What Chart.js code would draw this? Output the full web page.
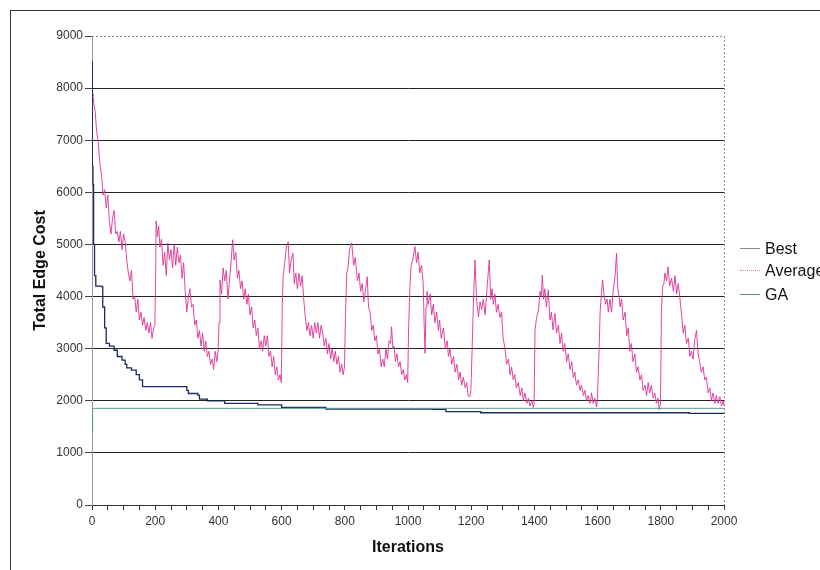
<!DOCTYPE html>
<html>
<head>
<meta charset="utf-8">
<title>Total Edge Cost vs Iterations</title>
<script src="https://cdn.jsdelivr.net/npm/chart.js@4.4.1/dist/chart.umd.min.js"></script>
<style>
    html, body { margin: 0; padding: 0; background: #fff; overflow: hidden; }
    #wrap { position: relative; width: 820px; height: 570px; font-family: Arial, "Liberation Sans", sans-serif; }
    #grafico { position: absolute; left: 0; top: 0; }
    .moldura-topo { position: absolute; left: 10px; top: 10px; width: 810px; height: 1px; background: #333; }
    .moldura-esq { position: absolute; left: 10px; top: 10px; width: 1px; height: 560px; background: #333; }
    .legenda { position: absolute; left: 740px; font-size: 16px; line-height: 18px; color: #111; white-space: nowrap; }
    .legenda span { display: inline-block; width: 20px; height: 0; margin-right: 5px; vertical-align: middle; position: relative; top: -1px; }
</style>
</head>
<body>
<div id="wrap">
    <canvas id="grafico" width="820" height="570"></canvas>
    <div class="moldura-topo"></div>
    <div class="moldura-esq"></div>
    <div class="legenda" style="top:240px"><span style="border-top:1.5px solid #8a8a8a"></span>Best</div>
    <div class="legenda" style="top:262px"><span style="border-top:1.5px dotted #e27ab8"></span>Average</div>
    <div class="legenda" style="top:286px"><span style="border-top:1.5px solid #4f8f80"></span>GA</div>
</div>
<script>
// Dados (iteração, custo total)
const bestIter = [0, 1, 3, 5, 8, 12, 30, 34, 40, 45, 55, 70, 80, 95, 105, 110, 125, 140, 150, 160, 295, 300, 305, 335, 340, 365, 420, 525, 600, 740, 1080, 1120, 1230, 1890, 2000];
const bestCost = [8500, 6500, 6150, 5000, 4400, 4200, 4190, 3800, 3400, 3100, 3050, 2970, 2850, 2780, 2700, 2630, 2590, 2500, 2400, 2270, 2270, 2200, 2140, 2110, 2030, 2000, 1950, 1920, 1875, 1840, 1835, 1790, 1770, 1760, 1750];

const gaIter = [0, 2, 2000];
const gaCost = [1400, 1855, 1855];

const avgIter = [
    0, 3, 6, 10, 15, 20, 25, 30, 35, 40, 45, 50, 55, 60, 65, 70, 75, 80, 85, 90, 95, 100, 105, 110, 115, 120, 125, 130, 135, 140, 145, 150, 155, 160, 165, 170, 175, 180, 185, 190, 195, 199,
    201, 203, 207, 211, 215, 220, 225, 230, 235, 240, 245, 250, 255, 260, 265, 270, 275, 280, 285, 290, 295, 300, 305, 310, 315, 320, 325, 330, 335, 340, 345, 350, 355, 360, 365, 370, 375, 380, 385, 390, 395, 399,
    402, 405, 410, 415, 420, 425, 430, 435, 440, 445, 450, 455, 460, 465, 470, 475, 480, 485, 490, 495, 500, 505, 510, 515, 520, 525, 530, 535, 540, 545, 550, 555, 560, 565, 570, 575, 580, 585, 590, 595, 599,
    602, 605, 610, 615, 621, 625, 630, 636, 640, 645, 650, 655, 660, 665, 670, 675, 680, 685, 690, 695, 700, 705, 710, 715, 720, 725, 730, 735, 740, 745, 750, 755, 760, 765, 770, 775, 780, 785, 790, 795, 799,
    802, 806, 810, 815, 822, 828, 833, 840, 845, 850, 855, 860, 865, 871, 875, 880, 885, 890, 895, 900, 905, 910, 915, 920, 925, 930, 935, 940, 945, 948, 952, 956, 960, 965, 970, 975, 980, 985, 990, 995, 999,
    1002, 1006, 1010, 1015, 1022, 1027, 1032, 1037, 1043, 1048, 1051, 1054, 1057, 1060, 1064, 1070, 1075, 1080, 1085, 1091, 1096, 1100, 1105, 1112, 1118, 1124, 1128, 1133, 1138, 1144, 1149, 1155, 1160, 1165, 1170, 1175, 1181, 1186, 1190, 1196, 1199,
    1203, 1207, 1212, 1217, 1223, 1228, 1233, 1238, 1244, 1250, 1257, 1262, 1266, 1270, 1275, 1280, 1285, 1291, 1296, 1301, 1307, 1312, 1318, 1323, 1328, 1333, 1338, 1343, 1349, 1355, 1360, 1365, 1370, 1376, 1381, 1386, 1392, 1397, 1399,
    1402, 1407, 1413, 1418, 1422, 1425, 1429, 1433, 1438, 1444, 1449, 1454, 1459, 1465, 1470, 1476, 1481, 1486, 1491, 1496, 1502, 1507, 1513, 1518, 1523, 1528, 1533, 1539, 1544, 1549, 1555, 1560, 1565, 1570, 1576, 1581, 1586, 1591, 1597, 1599,
    1602, 1605, 1608, 1612, 1616, 1620, 1625, 1630, 1634, 1639, 1644, 1650, 1655, 1660, 1664, 1668, 1671, 1676, 1681, 1687, 1692, 1697, 1702, 1707, 1712, 1718, 1723, 1728, 1734, 1739, 1744, 1750, 1755, 1760, 1765, 1770, 1776, 1781, 1786, 1791, 1795, 1799,
    1802, 1806, 1810, 1813, 1818, 1823, 1828, 1834, 1840, 1845, 1850, 1855, 1860, 1865, 1871, 1876, 1881, 1887, 1892, 1897, 1902, 1907, 1913, 1918, 1923, 1928, 1934, 1939, 1944, 1950, 1955, 1960, 1965, 1971, 1976, 1981, 1987, 1992, 1997, 2000
];
const avgCost = [
    7900, 7850, 7700, 7550, 7150, 6950, 6550, 6350, 5950, 6050, 5700, 5950, 5450, 5200, 5500, 5650, 5200, 5250, 5050, 5250, 4900, 5200, 5050, 4700, 4450, 4300, 4500, 3950, 4000, 3700, 3950, 3550, 3700, 3450, 3600, 3350, 3500, 3300, 3500, 3200, 3400, 3450,
    4200, 5450, 5150, 5350, 4950, 5100, 4600, 4850, 4400, 5030, 4700, 4900, 4550, 5000, 4600, 4950, 4650, 4800, 4350, 4650, 4100, 3700, 4000, 4150, 3800, 3850, 3450, 3550, 3200, 3350, 3050, 3300, 2950, 3150, 2850, 2950, 2700, 2800, 2600, 2950, 2750, 2950,
    3500, 4320, 4050, 4550, 4300, 4500, 3950, 4300, 4650, 5090, 4700, 4850, 4350, 4500, 4150, 4300, 3950, 4150, 3850, 4050, 3650, 3800, 3400, 3550, 3250, 3400, 3000, 3150, 2950, 3250, 3050, 3250, 2850, 2950, 2650, 2850, 2500, 2650, 2400, 2500, 2350,
    3800, 4400, 4650, 4950, 5050, 4450, 4700, 4830, 4250, 4450, 4150, 4450, 4200, 4400, 3950, 3600, 3350, 3500, 3250, 3450, 3200, 3500, 3300, 3500, 3200, 3450, 3300, 3050, 3200, 2900, 3100, 2800, 3000, 2750, 2950, 2700, 2850, 2550, 2700, 2500, 2650,
    3600, 4450, 4550, 4900, 5030, 4600, 4750, 4300, 4450, 4100, 4250, 3900, 4100, 4380, 3800, 3700, 3350, 3450, 3150, 3250, 2900, 3000, 2650, 2800, 2650, 3000, 2800, 3150, 3100, 3420, 3000, 3050, 2750, 2900, 2650, 2750, 2500, 2600, 2400, 2500, 2350,
    3400, 4190, 4600, 4700, 4960, 4650, 4850, 4450, 4600, 4250, 3500, 2910, 3800, 4100, 3850, 4050, 3650, 3850, 3500, 3700, 3350, 3550, 3200, 3400, 3000, 3150, 2850, 3000, 2700, 2850, 2550, 2700, 2400, 2550, 2300, 2450, 2250, 2350, 2100, 2080, 2200,
    3000, 3870, 4700, 3950, 3610, 3900, 3750, 3950, 3650, 4150, 4700, 3950, 4150, 3850, 4050, 3700, 3850, 3600, 3700, 3200, 3000, 2700, 2800, 2500, 2650, 2400, 2500, 2250, 2350, 2100, 2250, 2000, 2150, 1950, 2050, 1900, 2000, 1870, 1950,
    3360, 3600, 3740, 4100, 4000, 4410, 3950, 4150, 3800, 4130, 3550, 3700, 3360, 3680, 3300, 3450, 3100, 3300, 2950, 3100, 2750, 2900, 2600, 2750, 2450, 2550, 2300, 2400, 2200, 2300, 2100, 2200, 2000, 2100, 1950, 2150, 1950, 2050, 1880, 2000,
    2500, 3040, 3700, 4050, 4320, 4050, 3850, 3950, 3700, 3950, 3700, 4150, 4380, 4830, 4150, 4000, 3800, 3950, 3550, 3700, 3250, 3400, 2950, 3100, 2750, 2900, 2550, 2650, 2400, 2500, 2200, 2300, 2100, 2350, 2150, 2300, 2050, 2150, 1950, 2050, 1830, 1950,
    3740, 4200, 4250, 4450, 4300, 4570, 4200, 4350, 4100, 4400, 4050, 4250, 4000, 3700, 3300, 3450, 3100, 3200, 2850, 2950, 2800, 3150, 3350, 2900, 2750, 2550, 2650, 2400, 2450, 2150, 2250, 2000, 2150, 1950, 2100, 1950, 2080, 1900, 2000, 1900
];

const xTicks = { min: 0, max: 2000, step: 50, labelEvery: 200 };
const yTicks = { min: 0, max: 9000, step: 1000 };

// Monta os pontos {x, y} de cada série
function montarPontos(xs, ys) {
    return xs.map((x, i) => ({ x: x, y: ys[i] }));
}

// Linhas pontilhadas no topo e na borda direita da área do gráfico
const bordasPontilhadas = {
    id: 'bordasPontilhadas',
    afterDraw(chart) {
        const { ctx, chartArea } = chart;
        ctx.save();
        ctx.strokeStyle = '#8c8c8c';
        ctx.lineWidth = 1;
        ctx.setLineDash([2, 2]);
        ctx.beginPath();
        ctx.moveTo(chartArea.left, chartArea.top + 0.5);
        ctx.lineTo(chartArea.right, chartArea.top + 0.5);
        ctx.moveTo(chartArea.right + 0.5, chartArea.top);
        ctx.lineTo(chartArea.right + 0.5, chartArea.bottom);
        ctx.stroke();
        ctx.restore();
    }
};

const fonteEixo = { family: 'Arial, "Liberation Sans", sans-serif', size: 12 };
const fonteTitulo = { family: 'Arial, "Liberation Sans", sans-serif', size: 16, weight: 'bold' };

new Chart(document.getElementById('grafico'), {
    type: 'line',
    data: {
        datasets: [
            {
                label: 'GA',
                data: montarPontos(gaIter, gaCost),
                borderColor: '#5a9a8c',
                borderWidth: 1,
                pointRadius: 0
            },
            {
                label: 'Best',
                data: montarPontos(bestIter, bestCost),
                borderColor: '#1d2a5e',
                borderWidth: 1.3,
                stepped: true,
                pointRadius: 0
            },
            {
                label: 'Average',
                data: montarPontos(avgIter, avgCost),
                borderColor: 'rgba(222, 50, 150, 0.9)',
                borderWidth: 1,
                pointRadius: 0
            }
        ]
    },
    options: {
        responsive: false,
        animation: false,
        layout: { padding: { left: 30, right: 96, top: 36, bottom: 5 } },
        plugins: {
            legend: { display: false },
            tooltip: { enabled: false }
        },
        scales: {
            x: {
                type: 'linear',
                min: xTicks.min,
                max: xTicks.max,
                afterFit: s => { s.height = 60; },
                ticks: {
                    stepSize: xTicks.step,
                    autoSkip: false,
                    maxRotation: 0,
                    padding: 4,
                    color: '#333',
                    font: fonteEixo,
                    callback: v => (v % xTicks.labelEvery === 0 ? String(v) : '')
                },
                grid: { drawOnChartArea: false, drawTicks: true, tickLength: 5, tickColor: '#333' },
                border: { color: '#333', width: 1 },
                title: { display: true, text: 'Iterations', color: '#111', font: fonteTitulo, padding: { top: 4, bottom: 8 } }
            },
            y: {
                min: yTicks.min,
                max: yTicks.max,
                afterFit: s => { s.width = 62; },
                ticks: { stepSize: yTicks.step, padding: 2, color: '#333', font: fonteEixo, callback: v => String(v) },
                grid: {
                    color: c => (c.tick && c.tick.value === yTicks.max ? 'rgba(0,0,0,0)' : '#222'),
                    lineWidth: 1,
                    tickLength: 7,
                    tickColor: '#444'
                },
                border: { color: '#999', width: 1 },
                title: { display: true, text: 'Total Edge Cost', color: '#111', font: fonteTitulo, padding: { top: 1, bottom: 4 } }
            }
        }
    },
    plugins: [bordasPontilhadas]
});
</script>
</body>
</html>
